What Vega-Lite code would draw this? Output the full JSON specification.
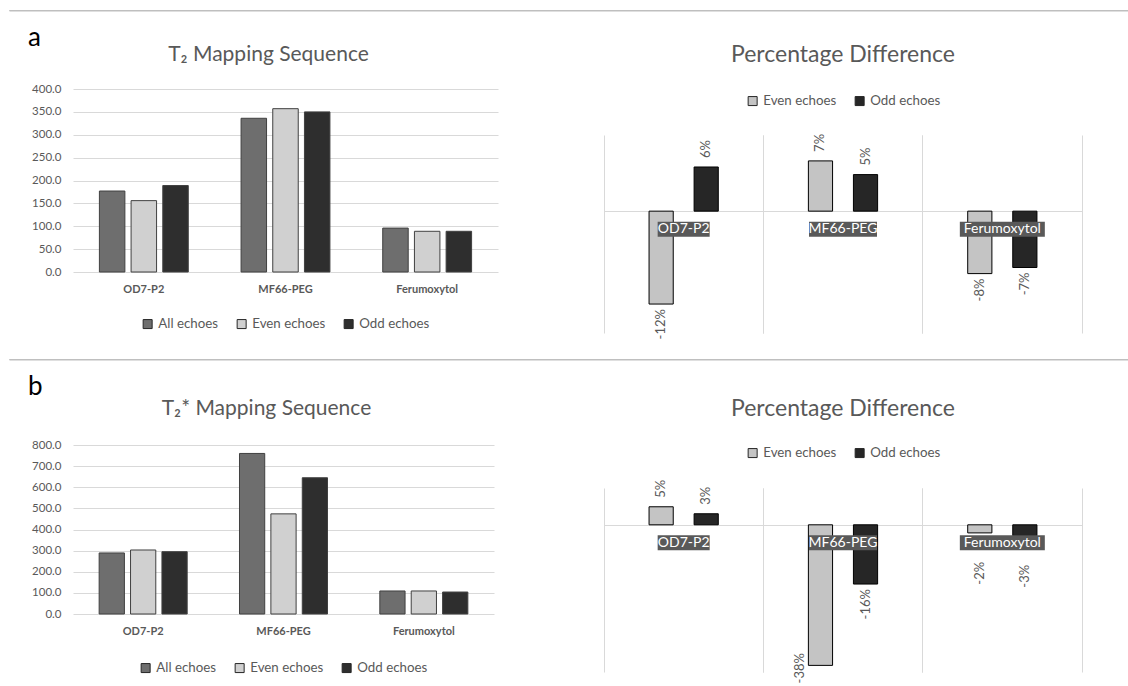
{
  "$schema": "https://vega.github.io/schema/vega-lite/v6.json",
  "padding": {"left": 8, "top": 9, "right": 0, "bottom": 0},
  "background": "white",
  "spacing": 14,
  "resolve": {"scale": {"x": "independent", "y": "independent", "xOffset": "independent", "fill": "independent", "shape": "independent"}, "legend": {"fill": "independent"}},
  "config": {
    "font": "Lato",
    "locale": {"number": {"decimal": ".", "thousands": ",", "grouping": [3], "currency": ["$", ""], "minus": "-", "percent": "%"}},
    "view": {"stroke": null},
    "axis": {"labelFont": "Lato", "labelColor": "#595959", "gridColor": "#d9d9d9", "domainColor": "#d9d9d9", "tickColor": "#d9d9d9"},
    "legend": {"labelFont": "Lato", "labelColor": "#595959", "labelFontSize": 13.3, "symbolType": "square", "symbolStrokeColor": "#262626", "symbolStrokeWidth": 1, "symbolSize": 81, "columnPadding": 16, "labelOffset": 4, "layout": {"anchor": "middle", "top": {"anchor": "middle"}, "bottom": {"anchor": "middle"}}},
    "title": {"font": "Lato", "color": "#595959", "fontWeight": "normal"}
  },
  "vconcat": [
    {"width": 1120, "height": 0.5, "view": {"stroke": "#bfbfbf", "strokeWidth": 1}, "data": {"values": [{}]}, "mark": {"type": "point", "size": 0, "opacity": 0}, "encoding": {}},
    {
      "title": {"text": "a", "anchor": "start", "fontSize": 26, "color": "#000000", "dx": 19, "offset": -10},
      "spacing": 106,
      "resolve": {"scale": {"x": "independent", "y": "independent", "xOffset": "independent", "fill": "independent", "shape": "independent"}, "legend": {"fill": "independent"}},
      "hconcat": [
        {
          "spacing": 1,
          "resolve": {"scale": {"x": "independent", "y": "independent", "xOffset": "independent", "fill": "independent"}, "legend": {"fill": "independent"}},
          "hconcat": [
            {"width": 1, "height": 0.5, "data": {"values": [{}]}, "mark": {"type": "point", "size": 0, "opacity": 0}, "encoding": {}},
            {
              "spacing": 2,
              "resolve": {"scale": {"x": "independent", "y": "independent", "xOffset": "independent", "fill": "independent"}, "legend": {"fill": "independent"}},
              "vconcat": [
                {"width": 1, "height": 0.5, "data": {"values": [{}]}, "mark": {"type": "point", "size": 0, "opacity": 0}, "encoding": {}},
                {
                  "width": 425, "height": 183,
                  "title": {"text": "T₂ Mapping Sequence", "fontSize": 21, "offset": 18, "dx": -17},
                  "data": {"values": [
                    {"agent": "OD7-P2", "series": "All echoes", "value": 177},
                    {"agent": "OD7-P2", "series": "Even echoes", "value": 156},
                    {"agent": "OD7-P2", "series": "Odd echoes", "value": 189},
                    {"agent": "MF66-PEG", "series": "All echoes", "value": 336},
                    {"agent": "MF66-PEG", "series": "Even echoes", "value": 357},
                    {"agent": "MF66-PEG", "series": "Odd echoes", "value": 350},
                    {"agent": "Ferumoxytol", "series": "All echoes", "value": 96},
                    {"agent": "Ferumoxytol", "series": "Even echoes", "value": 89},
                    {"agent": "Ferumoxytol", "series": "Odd echoes", "value": 89}
                  ]},
                  "mark": {"type": "bar", "stroke": "#404040", "strokeWidth": 1},
                  "encoding": {
                    "x": {"field": "agent", "type": "nominal", "sort": ["OD7-P2", "MF66-PEG", "Ferumoxytol"], "scale": {"paddingInner": 0, "paddingOuter": 0}, "axis": {"title": null, "labelAngle": 0, "labelFontWeight": "bold", "labelFontSize": 11, "ticks": false, "domain": false, "labelPadding": 11}},
                    "xOffset": {"field": "series", "type": "nominal", "sort": ["All echoes", "Even echoes", "Odd echoes"], "scale": {"paddingInner": 0.196, "paddingOuter": 0.833}},
                    "y": {"field": "value", "type": "quantitative", "scale": {"domain": [0, 400]}, "axis": {"title": null, "values": [0, 50, 100, 150, 200, 250, 300, 350, 400], "format": ".1f", "labelFontSize": 11.5, "ticks": false, "domain": false, "minExtent": 62, "labelPadding": 12}},
                    "fill": {"field": "series", "type": "nominal", "scale": {"domain": ["All echoes", "Even echoes", "Odd echoes"], "range": ["#6e6e6e", "#d0d0d0", "#2e2e2e"]}, "legend": {"title": null, "orient": "bottom", "direction": "horizontal", "offset": 10, "padding": 13}}
                  }
                }
              ]
            }
          ]
        },
        {
          "spacing": 2,
          "resolve": {"scale": {"x": "independent", "y": "independent", "xOffset": "independent", "fill": "independent", "shape": "independent"}, "legend": {"fill": "independent"}},
          "vconcat": [
            {"width": 1, "height": 0.5, "data": {"values": [{}]}, "mark": {"type": "point", "size": 0, "opacity": 0}, "encoding": {}},
            {
              "width": 478, "height": 198,
              "title": {"text": "Percentage Difference", "fontSize": 23, "offset": 27},
              "data": {"values": [
                {"agent": "OD7-P2", "series": "Even echoes", "pct": -0.122},
                {"agent": "OD7-P2", "series": "Odd echoes", "pct": 0.058},
                {"agent": "MF66-PEG", "series": "Even echoes", "pct": 0.066},
                {"agent": "MF66-PEG", "series": "Odd echoes", "pct": 0.048},
                {"agent": "Ferumoxytol", "series": "Even echoes", "pct": -0.082},
                {"agent": "Ferumoxytol", "series": "Odd echoes", "pct": -0.074}
              ]},
              "layer": [
                {
                  "mark": {"type": "bar", "stroke": "#000000", "strokeWidth": 1},
                  "encoding": {
                    "x": {"field": "agent", "type": "nominal", "sort": ["OD7-P2", "MF66-PEG", "Ferumoxytol"], "scale": {"paddingInner": 0, "paddingOuter": 0}, "axis": {"orient": "bottom", "title": null, "labels": false, "ticks": false, "domain": false, "grid": true, "bandPosition": 0, "minExtent": 0}},
                    "xOffset": {"field": "series", "type": "nominal", "sort": ["Even echoes", "Odd echoes"], "scale": {"paddingInner": 0.463, "paddingOuter": 1.174}},
                    "y": {"field": "pct", "type": "quantitative", "scale": {"domain": [-0.15, 0.1]}, "axis": {"title": null, "values": [0], "labels": false, "ticks": false, "domain": false, "grid": true, "minExtent": 0}},
                    "fill": {"field": "series", "type": "nominal", "scale": {"domain": ["Even echoes", "Odd echoes"], "range": ["#c4c4c4", "#262626"]}, "legend": {"title": null, "orient": "top", "direction": "horizontal", "offset": 27}}
                  }
                },
                {
                  "data": {"values": [{"agent": "OD7-P2"}, {"agent": "MF66-PEG"}, {"agent": "Ferumoxytol"}]},
                  "mark": {"type": "point", "filled": true, "size": 4, "opacity": 1, "color": "#595959", "strokeWidth": 0, "yOffset": 18},
                  "encoding": {
                    "x": {"field": "agent", "type": "nominal", "sort": ["OD7-P2", "MF66-PEG", "Ferumoxytol"], "axis": {"orient": "top", "title": null, "labels": false, "ticks": false, "domain": false, "grid": true, "bandPosition": 1, "minExtent": 0}},
                    "y": {"datum": 0, "type": "quantitative", "axis": null},
                    "shape": {"field": "agent", "type": "nominal", "scale": {"domain": ["OD7-P2", "MF66-PEG", "Ferumoxytol"], "range": ["M-26,-7.5H26V7.5H-26Z", "M-34,-7.5H34V7.5H-34Z", "M-42.5,-7.5H42.5V7.5H-42.5Z"]}, "legend": null}
                  }
                },
                {
                  "data": {"values": [{"agent": "OD7-P2"}, {"agent": "MF66-PEG"}, {"agent": "Ferumoxytol"}]},
                  "mark": {"type": "text", "color": "#ffffff", "fontSize": 14, "yOffset": 18, "baseline": "middle"},
                  "encoding": {
                    "x": {"field": "agent", "type": "nominal", "sort": ["OD7-P2", "MF66-PEG", "Ferumoxytol"], "axis": null},
                    "y": {"datum": 0, "type": "quantitative", "axis": null},
                    "text": {"field": "agent"}
                  }
                },
                {
                  "transform": [{"filter": "datum.pct >= 0"}],
                  "mark": {"type": "text", "angle": 270, "align": "left", "baseline": "middle", "dx": 9, "fontSize": 13, "color": "#595959"},
                  "encoding": {
                    "x": {"field": "agent", "type": "nominal", "sort": ["OD7-P2", "MF66-PEG", "Ferumoxytol"], "axis": null},
                    "xOffset": {"field": "series", "type": "nominal", "sort": ["Even echoes", "Odd echoes"]},
                    "y": {"field": "pct", "type": "quantitative", "axis": null},
                    "text": {"field": "pct", "format": ".0%"}
                  }
                },
                {
                  "transform": [{"filter": "datum.pct < 0"}],
                  "mark": {"type": "text", "angle": 270, "align": "right", "baseline": "middle", "dx": -5, "fontSize": 13, "color": "#595959"},
                  "encoding": {
                    "x": {"field": "agent", "type": "nominal", "sort": ["OD7-P2", "MF66-PEG", "Ferumoxytol"], "axis": null},
                    "xOffset": {"field": "series", "type": "nominal", "sort": ["Even echoes", "Odd echoes"]},
                    "y": {"field": "pct", "type": "quantitative", "axis": null},
                    "text": {"field": "pct", "format": ".0%"}
                  }
                }
              ],
              "resolve": {"axis": {"x": "independent", "y": "independent"}}
            }
          ]
        }
      ]
    },
    {"width": 1120, "height": 0.5, "view": {"stroke": "#bfbfbf", "strokeWidth": 1}, "data": {"values": [{}]}, "mark": {"type": "point", "size": 0, "opacity": 0}, "encoding": {}},
    {
      "title": {"text": "b", "anchor": "start", "fontSize": 26, "color": "#000000", "dx": 19, "offset": -10},
      "spacing": 110,
      "resolve": {"scale": {"x": "independent", "y": "independent", "xOffset": "independent", "fill": "independent", "shape": "independent"}, "legend": {"fill": "independent"}},
      "hconcat": [
        {
          "spacing": 1,
          "resolve": {"scale": {"x": "independent", "y": "independent", "xOffset": "independent", "fill": "independent"}, "legend": {"fill": "independent"}},
          "hconcat": [
            {"width": 1, "height": 0.5, "data": {"values": [{}]}, "mark": {"type": "point", "size": 0, "opacity": 0}, "encoding": {}},
            {
              "spacing": 7,
              "resolve": {"scale": {"x": "independent", "y": "independent", "xOffset": "independent", "fill": "independent"}, "legend": {"fill": "independent"}},
              "vconcat": [
                {"width": 1, "height": 0.5, "data": {"values": [{}]}, "mark": {"type": "point", "size": 0, "opacity": 0}, "encoding": {}},
                {
                  "width": 421, "height": 169,
                  "title": {"text": "T₂* Mapping Sequence", "fontSize": 21, "offset": 20, "dx": -17},
                  "data": {"values": [
                    {"agent": "OD7-P2", "series": "All echoes", "value": 289},
                    {"agent": "OD7-P2", "series": "Even echoes", "value": 303},
                    {"agent": "OD7-P2", "series": "Odd echoes", "value": 295},
                    {"agent": "MF66-PEG", "series": "All echoes", "value": 760},
                    {"agent": "MF66-PEG", "series": "Even echoes", "value": 474},
                    {"agent": "MF66-PEG", "series": "Odd echoes", "value": 645},
                    {"agent": "Ferumoxytol", "series": "All echoes", "value": 109},
                    {"agent": "Ferumoxytol", "series": "Even echoes", "value": 109},
                    {"agent": "Ferumoxytol", "series": "Odd echoes", "value": 104}
                  ]},
                  "mark": {"type": "bar", "stroke": "#404040", "strokeWidth": 1},
                  "encoding": {
                    "x": {"field": "agent", "type": "nominal", "sort": ["OD7-P2", "MF66-PEG", "Ferumoxytol"], "scale": {"paddingInner": 0, "paddingOuter": 0}, "axis": {"title": null, "labelAngle": 0, "labelFontWeight": "bold", "labelFontSize": 11, "ticks": false, "domain": false, "labelPadding": 11}},
                    "xOffset": {"field": "series", "type": "nominal", "sort": ["All echoes", "Even echoes", "Odd echoes"], "scale": {"paddingInner": 0.196, "paddingOuter": 0.833}},
                    "y": {"field": "value", "type": "quantitative", "scale": {"domain": [0, 800]}, "axis": {"title": null, "values": [0, 100, 200, 300, 400, 500, 600, 700, 800], "format": ".1f", "labelFontSize": 11.5, "ticks": false, "domain": false, "minExtent": 62, "labelPadding": 12}},
                    "fill": {"field": "series", "type": "nominal", "scale": {"domain": ["All echoes", "Even echoes", "Odd echoes"], "range": ["#6e6e6e", "#d0d0d0", "#2e2e2e"]}, "legend": {"title": null, "orient": "bottom", "direction": "horizontal", "offset": 25}}
                  }
                }
              ]
            }
          ]
        },
        {
          "spacing": 7,
          "resolve": {"scale": {"x": "independent", "y": "independent", "xOffset": "independent", "fill": "independent", "shape": "independent"}, "legend": {"fill": "independent"}},
          "vconcat": [
            {"width": 1, "height": 0.5, "data": {"values": [{}]}, "mark": {"type": "point", "size": 0, "opacity": 0}, "encoding": {}},
            {
              "width": 478, "height": 184,
              "title": {"text": "Percentage Difference", "fontSize": 23, "offset": 25},
              "data": {"values": [
                {"agent": "OD7-P2", "series": "Even echoes", "pct": 0.049},
                {"agent": "OD7-P2", "series": "Odd echoes", "pct": 0.03},
                {"agent": "MF66-PEG", "series": "Even echoes", "pct": -0.382},
                {"agent": "MF66-PEG", "series": "Odd echoes", "pct": -0.161},
                {"agent": "Ferumoxytol", "series": "Even echoes", "pct": -0.022},
                {"agent": "Ferumoxytol", "series": "Odd echoes", "pct": -0.03}
              ]},
              "layer": [
                {
                  "mark": {"type": "bar", "stroke": "#000000", "strokeWidth": 1},
                  "encoding": {
                    "x": {"field": "agent", "type": "nominal", "sort": ["OD7-P2", "MF66-PEG", "Ferumoxytol"], "scale": {"paddingInner": 0, "paddingOuter": 0}, "axis": {"orient": "bottom", "title": null, "labels": false, "ticks": false, "domain": false, "grid": true, "bandPosition": 0, "minExtent": 0}},
                    "xOffset": {"field": "series", "type": "nominal", "sort": ["Even echoes", "Odd echoes"], "scale": {"paddingInner": 0.463, "paddingOuter": 1.174}},
                    "y": {"field": "pct", "type": "quantitative", "scale": {"domain": [-0.4, 0.1]}, "axis": {"title": null, "values": [0], "labels": false, "ticks": false, "domain": false, "grid": true, "minExtent": 0}},
                    "fill": {"field": "series", "type": "nominal", "scale": {"domain": ["Even echoes", "Odd echoes"], "range": ["#c4c4c4", "#262626"]}, "legend": {"title": null, "orient": "top", "direction": "horizontal", "offset": 28}}
                  }
                },
                {
                  "data": {"values": [{"agent": "OD7-P2"}, {"agent": "MF66-PEG"}, {"agent": "Ferumoxytol"}]},
                  "mark": {"type": "point", "filled": true, "size": 4, "opacity": 1, "color": "#595959", "strokeWidth": 0, "yOffset": 18},
                  "encoding": {
                    "x": {"field": "agent", "type": "nominal", "sort": ["OD7-P2", "MF66-PEG", "Ferumoxytol"], "axis": {"orient": "top", "title": null, "labels": false, "ticks": false, "domain": false, "grid": true, "bandPosition": 1, "minExtent": 0}},
                    "y": {"datum": 0, "type": "quantitative", "axis": null},
                    "shape": {"field": "agent", "type": "nominal", "scale": {"domain": ["OD7-P2", "MF66-PEG", "Ferumoxytol"], "range": ["M-26,-7.5H26V7.5H-26Z", "M-34,-7.5H34V7.5H-34Z", "M-42.5,-7.5H42.5V7.5H-42.5Z"]}, "legend": null}
                  }
                },
                {
                  "data": {"values": [{"agent": "OD7-P2"}, {"agent": "MF66-PEG"}, {"agent": "Ferumoxytol"}]},
                  "mark": {"type": "text", "color": "#ffffff", "fontSize": 14, "yOffset": 18, "baseline": "middle"},
                  "encoding": {
                    "x": {"field": "agent", "type": "nominal", "sort": ["OD7-P2", "MF66-PEG", "Ferumoxytol"], "axis": null},
                    "y": {"datum": 0, "type": "quantitative", "axis": null},
                    "text": {"field": "agent"}
                  }
                },
                {
                  "transform": [{"filter": "datum.pct >= 0"}],
                  "mark": {"type": "text", "angle": 270, "align": "left", "baseline": "middle", "dx": 9, "fontSize": 13, "color": "#595959"},
                  "encoding": {
                    "x": {"field": "agent", "type": "nominal", "sort": ["OD7-P2", "MF66-PEG", "Ferumoxytol"], "axis": null},
                    "xOffset": {"field": "series", "type": "nominal", "sort": ["Even echoes", "Odd echoes"]},
                    "y": {"field": "pct", "type": "quantitative", "axis": null},
                    "text": {"field": "pct", "format": ".0%"}
                  }
                },
                {
                  "transform": [{"filter": "datum.pct <= -0.05 && datum.pct >= -0.3"}],
                  "mark": {"type": "text", "angle": 270, "align": "right", "baseline": "middle", "dx": -5, "fontSize": 13, "color": "#595959"},
                  "encoding": {
                    "x": {"field": "agent", "type": "nominal", "sort": ["OD7-P2", "MF66-PEG", "Ferumoxytol"], "axis": null},
                    "xOffset": {"field": "series", "type": "nominal", "sort": ["Even echoes", "Odd echoes"]},
                    "y": {"field": "pct", "type": "quantitative", "axis": null},
                    "text": {"field": "pct", "format": ".0%"}
                  }
                },
                {
                  "transform": [{"filter": "datum.pct < 0 && datum.pct > -0.05"}],
                  "mark": {"type": "text", "angle": 270, "align": "right", "baseline": "middle", "dx": -29, "fontSize": 13, "color": "#595959"},
                  "encoding": {
                    "x": {"field": "agent", "type": "nominal", "sort": ["OD7-P2", "MF66-PEG", "Ferumoxytol"], "axis": null},
                    "xOffset": {"field": "series", "type": "nominal", "sort": ["Even echoes", "Odd echoes"]},
                    "y": {"field": "pct", "type": "quantitative", "axis": null},
                    "text": {"field": "pct", "format": ".0%"}
                  }
                },
                {
                  "transform": [{"filter": "datum.pct < -0.3"}],
                  "mark": {"type": "text", "angle": 270, "align": "left", "baseline": "bottom", "dx": -18, "dy": -13, "fontSize": 13, "color": "#595959"},
                  "encoding": {
                    "x": {"field": "agent", "type": "nominal", "sort": ["OD7-P2", "MF66-PEG", "Ferumoxytol"], "axis": null},
                    "xOffset": {"field": "series", "type": "nominal", "sort": ["Even echoes", "Odd echoes"]},
                    "y": {"field": "pct", "type": "quantitative", "axis": null},
                    "text": {"field": "pct", "format": ".0%"}
                  }
                }
              ],
              "resolve": {"axis": {"x": "independent", "y": "independent"}}
            }
          ]
        }
      ]
    }
  ]
}
